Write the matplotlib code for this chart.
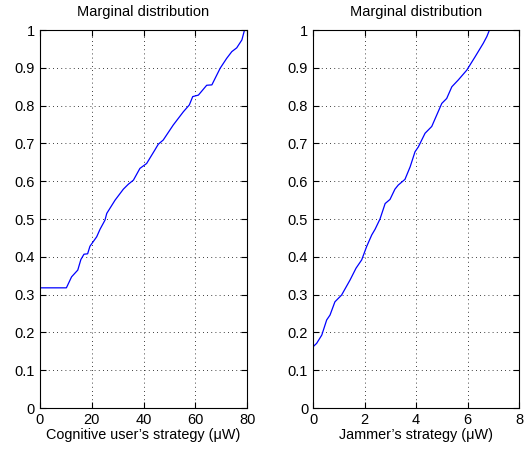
import matplotlib.pyplot as plt

plt.rcParams['font.family'] = ['Liberation Sans', 'DejaVu Sans']

# Cognitive user's strategy marginal CDF
cu_x = [0, 0, 10.2, 12.2, 14.6, 15.8, 17.0, 18.4, 19.3, 21.9, 23.2, 25.1, 25.8, 29.0,
        32.2, 34.1, 36.1, 38.6, 41.2, 44.4, 45.7, 47.6, 51.5, 55.4, 57.7, 59.0,
        61.2, 64.4, 66.4, 69.6, 72.1, 74.1, 76.0, 78.0, 79.0]
cu_y = [0, 0.318, 0.318, 0.347, 0.365, 0.393, 0.407, 0.408, 0.428, 0.453, 0.473, 0.497,
        0.515, 0.55, 0.579, 0.592, 0.603, 0.634, 0.647, 0.683, 0.698, 0.709, 0.749,
        0.784, 0.802, 0.824, 0.828, 0.854, 0.855, 0.899, 0.925, 0.943, 0.953, 0.974, 1.0]

# Jammer's strategy marginal CDF
jm_x = [0, 0, 0.14, 0.34, 0.53, 0.66, 0.85, 1.11, 1.44, 1.67, 1.89, 2.08, 2.28, 2.41,
        2.6, 2.8, 2.99, 3.18, 3.31, 3.57, 3.77, 3.96, 4.09, 4.35, 4.61, 5.0, 5.19,
        5.39, 5.64, 5.97, 6.29, 6.61, 6.75, 6.85]
jm_y = [0, 0.162, 0.171, 0.193, 0.233, 0.246, 0.281, 0.299, 0.339, 0.37, 0.392, 0.427,
        0.458, 0.473, 0.5, 0.541, 0.552, 0.579, 0.59, 0.605, 0.638, 0.678, 0.691,
        0.727, 0.745, 0.806, 0.819, 0.85, 0.868, 0.894, 0.929, 0.965, 0.983, 1.0]

fig = plt.figure(figsize=(5.31, 4.51), dpi=100)
ax1 = fig.add_axes([0.0753, 0.0953, 0.390, 0.838])
ax2 = fig.add_axes([0.5895, 0.0953, 0.388, 0.838])

panels = [(ax1, cu_x, cu_y, 80, 20, "Cognitive user\u2019s strategy (\u03bcW)"),
          (ax2, jm_x, jm_y, 8, 2, "Jammer\u2019s strategy (\u03bcW)")]

for ax, x, y, xmax, step, xlab in panels:
    ax.plot(x, y, color='blue', linewidth=0.9)
    ax.set_xlim(0, xmax)
    ax.set_ylim(0, 1)
    ax.set_xticks([i * step for i in range(5)])
    ax.set_yticks([i / 10 for i in range(11)])
    ax.set_yticklabels(['0'] + ['%.1f' % (i / 10) for i in range(1, 10)] + ['1'])
    ax.grid(True, linestyle=(0, (1, 4)), color='black', linewidth=0.6)
    ax.tick_params(direction='in', labelsize=10.5, length=4, top=True, right=True)
    ax.set_xlabel(xlab, fontsize=10.4, labelpad=1)
    ax.set_title("Marginal distribution", fontsize=10.5, pad=10)
    for s in ax.spines.values():
        s.set_linewidth(0.8)

plt.savefig('out.png', dpi=100)
